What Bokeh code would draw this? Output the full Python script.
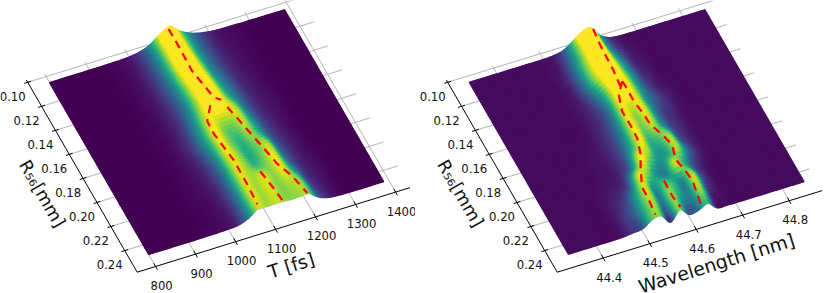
import numpy as np
from bokeh.embed import file_html
from bokeh.layouts import row
from bokeh.models import Range1d
from bokeh.palettes import Viridis256
from bokeh.plotting import figure
from bokeh.resources import INLINE

# ---------- data ----------
R_ROWS = [0.105, 0.116, 0.127, 0.138, 0.149, 0.160, 0.171, 0.182, 0.193, 0.204, 0.215, 0.226, 0.237, 0.248]
R_TICKS = [0.10, 0.12, 0.14, 0.16, 0.18, 0.20, 0.22, 0.24]

T_BAND = [950, 975, 1000, 1025, 1050, 1075, 1100, 1125, 1150, 1175, 1200, 1225, 1250, 1275, 1300, 1325]
T_TICKS = [800, 900, 1000, 1100, 1200, 1300, 1400]
Z_T = [
    [.01, .02, .05, .14, .34, .72, 1.0, .60, .32, .16, .07, .03, .02, .01, .005, 0],
    [.01, .02, .05, .14, .34, .72, 1.0, .61, .33, .17, .07, .03, .02, .01, 0, 0],
    [.01, .02, .05, .14, .33, .72, 1.0, .64, .34, .18, .08, .04, .02, .01, 0, 0],
    [.01, .02, .05, .14, .32, .70, .98, .68, .36, .20, .09, .04, .02, .01, 0, 0],
    [.01, .02, .05, .13, .30, .64, .96, .74, .42, .24, .10, .05, .02, .01, 0, 0],
    [.01, .02, .05, .12, .30, .62, .88, .76, .48, .27, .12, .05, .03, .01, 0, 0],
    [.01, .02, .05, .14, .36, .66, .72, .70, .62, .32, .13, .06, .03, .01, 0, 0],
    [.01, .02, .06, .16, .40, .70, .58, .56, .64, .38, .16, .07, .03, .01, 0, 0],
    [.01, .02, .05, .14, .36, .70, .54, .46, .60, .44, .19, .08, .03, .01, 0, 0],
    [.01, .02, .04, .11, .30, .68, .58, .42, .54, .62, .25, .10, .04, .01, 0, 0],
    [.01, .02, .04, .10, .28, .66, .60, .46, .56, .68, .30, .11, .04, .02, 0, 0],
    [.01, .015, .03, .09, .28, .66, .60, .66, .58, .68, .42, .13, .05, .02, 0, 0],
    [.01, .015, .03, .08, .28, .66, .60, .66, .56, .62, .58, .17, .06, .02, 0, 0],
    [.01, .015, .03, .08, .28, .64, .60, .64, .58, .58, .60, .24, .07, .02, 0, 0],
]
T_RIDGES = [
    ([1095, 1095, 1094, 1108, 1114], [.1065, .121, .1409, .1594, .1633]),
    ([1114, 1126], [.1633, .1646]),
    ([1131, 1141, 1156, 1168, 1186, 1197], [.1704, .1811, .1993, .2213, .2321, .2476]),
    ([1095, 1072, 1070, 1080, 1079, 1077], [.1668, .1754, .1862, .2095, .2293, .2449]),
    ([1124, 1131, 1136], [.2222, .2375, .2483]),
]

W_BAND = [44.46, 44.48, 44.50, 44.52, 44.54, 44.56, 44.58, 44.60, 44.62, 44.64, 44.66, 44.68, 44.70, 44.72, 44.74]
W_TICKS = [44.4, 44.5, 44.6, 44.7, 44.8]
Z_W = [
    [.02, .02, .03, .05, .16, .48, .85, 1.0, .42, .12, .04, .02, .02, .02, .02],
    [.02, .02, .03, .06, .22, .50, .80, .98, .46, .18, .06, .03, .02, .02, .02],
    [.02, .02, .03, .08, .26, .56, .80, .98, .56, .28, .08, .04, .02, .02, .02],
    [.02, .02, .03, .07, .24, .54, .78, .96, .62, .34, .12, .05, .02, .02, .02],
    [.02, .02, .03, .06, .15, .36, .70, .90, .66, .36, .16, .06, .03, .02, .02],
    [.02, .02, .03, .06, .12, .28, .68, .70, .66, .35, .20, .10, .04, .02, .02],
    [.02, .02, .03, .07, .14, .32, .68, .58, .68, .36, .14, .08, .03, .02, .02],
    [.02, .03, .04, .08, .16, .36, .70, .54, .64, .38, .16, .08, .03, .02, .02],
    [.02, .03, .04, .08, .18, .44, .70, .44, .50, .60, .22, .08, .03, .02, .02],
    [.02, .03, .04, .09, .24, .70, .58, .38, .40, .62, .30, .10, .03, .02, .02],
    [.03, .05, .07, .18, .66, .58, .34, .30, .66, .44, .16, .05, .02, .02, .02],
    [.04, .08, .16, .42, .66, .32, .52, .46, .30, .64, .22, .05, .02, .02, .02],
    [.04, .12, .22, .46, .62, .26, .60, .38, .32, .62, .12, .04, .02, .02, .02],
    [.04, .10, .16, .50, .56, .05, .58, .16, .24, .46, .05, .03, .02, .02, .02],
]
W_RIDGES = [
    ([44.605, 44.600, 44.598, 44.596], [.1059, .12, .1405, .1512]),
    ([44.604, 44.607, 44.608, 44.612, 44.615, 44.627, 44.634, 44.624, 44.631, 44.634, 44.628],
     [.1485, .1535, .1625, .1719, .1819, .1908, .2006, .2119, .2196, .2296, .2456]),
    ([44.604, 44.586, 44.577, 44.577, 44.575, 44.565, 44.549, 44.534, 44.533, 44.530],
     [.1485, .1557, .1664, .1788, .1896, .201, .212, .2242, .2343, .246]),
    ([44.585, 44.580, 44.584], [.2216, .2371, .246]),
]

COLOR_TOP = 0.70       # height at which the colour map is saturated


def catmull(a, n):
    m = len(a)
    p = np.concatenate(([2 * a[0] - a[1]], a, [2 * a[-1] - a[-2]]))
    t = np.linspace(0, m - 1, (m - 1) * n + 1)
    i = np.minimum(t.astype(int), m - 2)
    f = t - i
    p0, p1, p2, p3 = p[i], p[i + 1], p[i + 2], p[i + 3]
    return 0.5 * (2 * p1 + (p2 - p0) * f + (2 * p0 - 5 * p1 + 4 * p2 - p3) * f ** 2
                  + (3 * p1 - p0 - 3 * p2 + p3) * f ** 3)


def panel(band, step, z_table, far, lo, hi, ridges, ticks, fmt, origin, col_px, lift, col0, col1,
          xlabel, xlabel_at, xlabel_size, ylabel_at):
    ox, oy, c0 = origin
    kx, ky = col_px
    r0 = 0.258

    def proj(c, r, z=0.0):
        c, r, z = np.asarray(c, float), np.asarray(r, float), np.asarray(z, float)
        return (ox + (c - c0) * kx + (r - r0) * 693, oy - (c - c0) * ky + (r - r0) * 1202 - z * lift)

    p = figure(width=415, height=293, x_range=Range1d(0, 415), y_range=Range1d(293, 0),
               output_backend="svg", toolbar_location=None, min_border=0)
    p.axis.visible = False
    p.grid.visible = False
    p.outline_line_color = None

    # floor grid
    gx, gy = [], []
    for r in R_TICKS:
        x, y = proj([col0, col1], [r, r]); gx.append(list(x)); gy.append(list(y))
    for c in ticks:
        x, y = proj([c, c], [r0, 0.098]); gx.append(list(x)); gy.append(list(y))
    p.multi_line(gx, gy, line_color="#b4b4b4", line_width=1)

    # surface
    n_left = int(round((band[0] - lo) / step)) + 1
    n_right = int(round((hi - band[-1]) / step)) + 1
    cols = np.arange(-n_left, len(band) + n_right) * step + band[0]
    z = np.array([np.r_[[far] * n_left, row_, [far] * n_right] for row_ in z_table], float)
    F_C, F_R = 6, 4
    z = np.apply_along_axis(catmull, 1, z, F_C)
    z = np.apply_along_axis(catmull, 0, z, F_R)
    z = np.clip(z, 0, None)
    cf = catmull(cols, F_C)
    rf = catmull(np.array(R_ROWS), F_R)
    keep = (cf >= lo) & (cf <= hi)
    cf, z = cf[keep], z[:, keep]
    cc, rr = np.meshgrid(cf, rf)
    X, Y = proj(cc, rr, z)
    xs, ys, col = [], [], []
    for i in range(len(rf) - 1):
        for j in range(len(cf) - 1):
            xs.append([X[i, j], X[i, j + 1], X[i + 1, j + 1], X[i + 1, j]])
            ys.append([Y[i, j], Y[i, j + 1], Y[i + 1, j + 1], Y[i + 1, j]])
            m = (z[i, j] + z[i, j + 1] + z[i + 1, j] + z[i + 1, j + 1]) / 4
            col.append(Viridis256[int(min(m / COLOR_TOP, 1) * 255)])
    p.patches(xs, ys, fill_color=col, line_color=col, line_width=1.3)

    # ridge lines
    rx, ry = [], []
    for cs, rs in ridges:
        ii = np.abs(rf[:, None] - np.array(rs)).argmin(axis=0)
        jj = np.abs(cf[:, None] - np.array(cs)).argmin(axis=0)
        x, y = proj(cs, rs, z[ii, jj])
        rx.append(list(x)); ry.append(list(y))
    p.multi_line(rx, ry, line_color="#ff0000", line_width=2.2, line_dash="8 6")

    # axes
    x, y = proj([col0, col0, col1], [0.098, r0, r0])
    p.line(list(x), list(y), line_color="black", line_width=1)
    dc = 3.4 / kx
    tx, ty = [], []
    for r in R_TICKS:
        x, y = proj([col0 - dc, col0 + dc], [r, r]); tx.append(list(x)); ty.append(list(y))
    for c in ticks:
        x, y = proj([c, c], [r0 + 0.0027, r0 - 0.0027]); tx.append(list(x)); ty.append(list(y))
    p.multi_line(tx, ty, line_color="black", line_width=1)

    # tick labels
    x, y = proj([col0] * len(R_TICKS), R_TICKS)
    p.text(list(x), list(y), text=[f"{r:.2f}" for r in R_TICKS], x_offset=-15, y_offset=14,
           text_align="center", text_baseline="middle", text_font={"value": "DejaVu Sans"},
           text_font_size="11.7px", text_color="#111111")
    x, y = proj(ticks, [r0] * len(ticks))
    p.text(list(x), list(y), text=[fmt(c) for c in ticks], x_offset=6, y_offset=19,
           text_align="center", text_baseline="middle", text_font={"value": "DejaVu Sans"},
           text_font_size="11.7px", text_color="#111111")

    # axis titles
    p.text([xlabel_at[0]], [xlabel_at[1]], text=[xlabel], angle=np.radians(17.2),
           text_align="center", text_baseline="middle", text_font={"value": "DejaVu Sans"},
           text_font_size=xlabel_size, text_color="#111111")
    p.text([ylabel_at[0]], [ylabel_at[1]], text=["R₅₆[mm]"], angle=np.radians(-60),
           text_align="center", text_baseline="middle", text_font={"value": "DejaVu Sans"},
           text_font_size="17.6px", text_color="#111111")
    return p


p1 = panel(T_BAND, 25, Z_T, 0.0, 798, 1388, T_RIDGES, T_TICKS, lambda c: f"{c}",
           (136.7, 271.7, 754), (0.4, 0.124), 19, 754, 1436, "T [fs]", (290.7, 265), "18.4px", (41.7, 193.3))
p2 = panel(W_BAND, 0.02, Z_W, 0.02, 44.339, 44.848, W_RIDGES, W_TICKS, lambda c: f"{c:.1f}",
           (141.7, 271.7, 44.301), (465, 143.2), 18, 44.301, 44.871, "Wavelength [nm]", (301, 263), "18.8px", (45, 193))

layout = row(p1, p2, spacing=0)
open("out.html", "w").write(file_html(layout, INLINE))
